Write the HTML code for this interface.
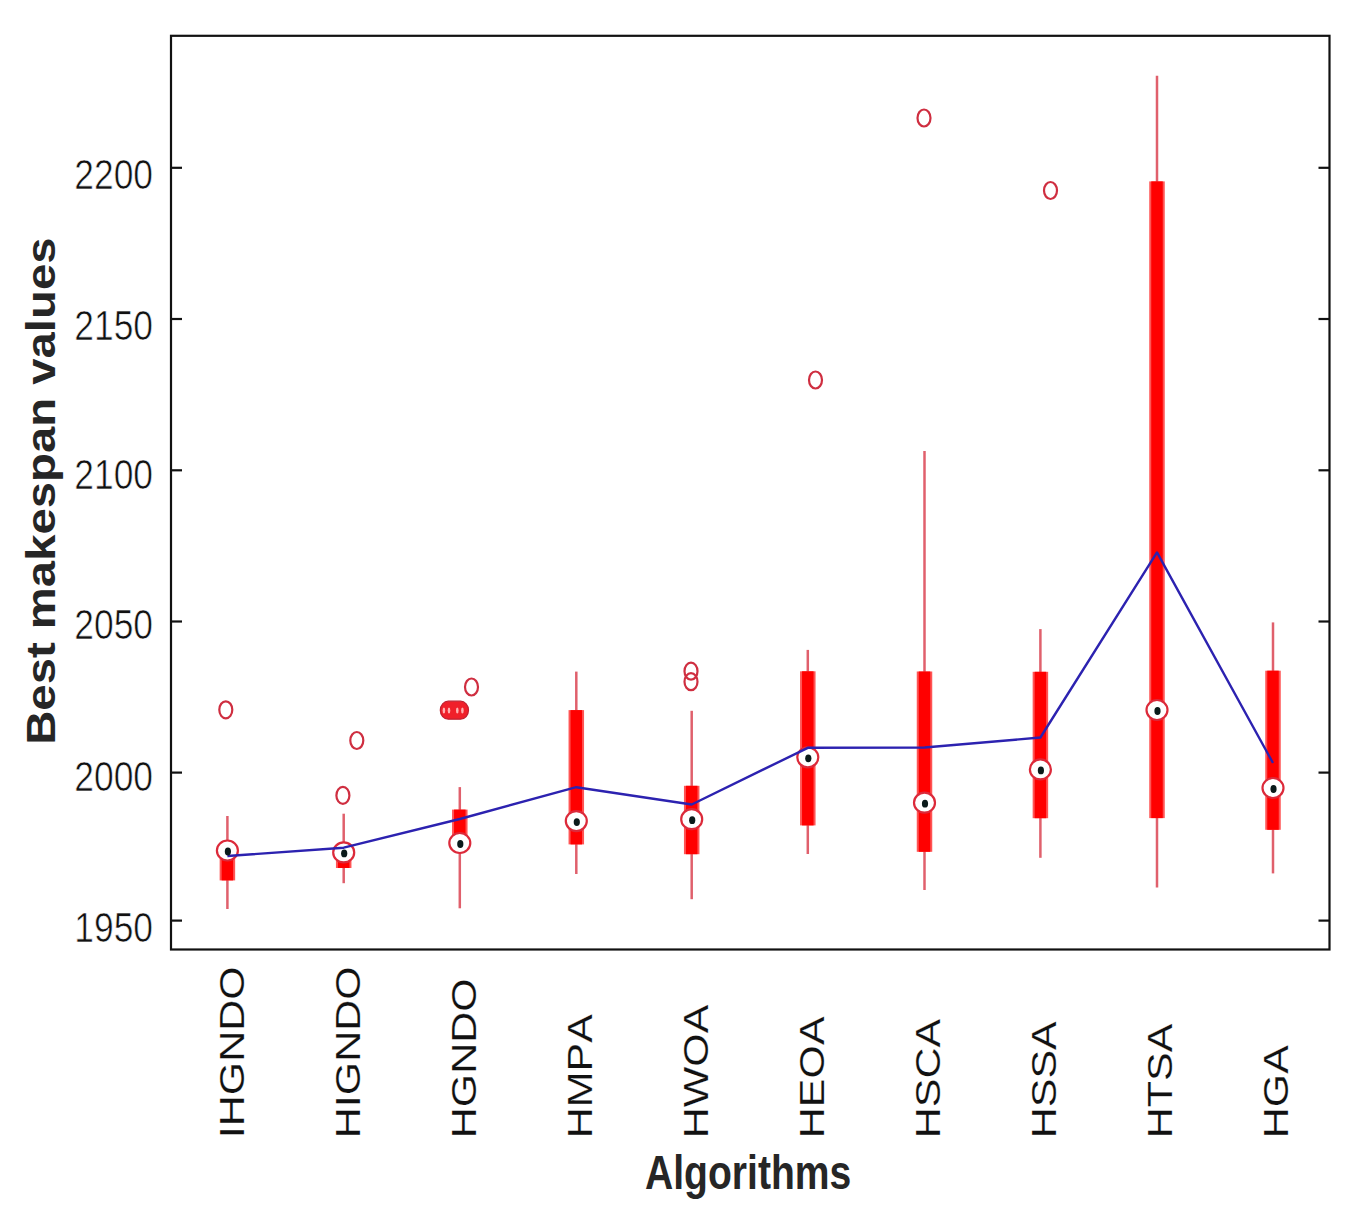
<!DOCTYPE html><html><head><meta charset="utf-8"><style>html,body{margin:0;padding:0;background:#fff;}svg{display:block;}text{font-family:"Liberation Sans",sans-serif;font-kerning:none;}</style></head><body>
<svg width="1353" height="1230" viewBox="0 0 1353 1230">
<rect x="0" y="0" width="1353" height="1230" fill="#fff"/>
<line x1="227.4" y1="816.0" x2="227.4" y2="909.0" stroke="#e0606c" stroke-width="2.5"/>
<line x1="343.7" y1="813.7" x2="343.7" y2="883.2" stroke="#e0606c" stroke-width="2.5"/>
<line x1="459.8" y1="787.1" x2="459.8" y2="908.3" stroke="#e0606c" stroke-width="2.5"/>
<line x1="576.3" y1="671.6" x2="576.3" y2="874.0" stroke="#e0606c" stroke-width="2.5"/>
<line x1="691.7" y1="710.8" x2="691.7" y2="899.2" stroke="#e0606c" stroke-width="2.5"/>
<line x1="807.8" y1="649.9" x2="807.8" y2="854.0" stroke="#e0606c" stroke-width="2.5"/>
<line x1="924.5" y1="451.0" x2="924.5" y2="890.0" stroke="#e0606c" stroke-width="2.5"/>
<line x1="1040.4" y1="629.1" x2="1040.4" y2="857.8" stroke="#e0606c" stroke-width="2.5"/>
<line x1="1157.0" y1="75.8" x2="1157.0" y2="887.6" stroke="#e0606c" stroke-width="2.5"/>
<line x1="1273.0" y1="622.4" x2="1273.0" y2="873.4" stroke="#e0606c" stroke-width="2.5"/>
<rect x="219.65" y="852.0" width="15.5" height="28.40" fill="#ff5555"/>
<rect x="221.65" y="852.0" width="11.5" height="28.40" fill="#ff0000"/>
<rect x="335.95" y="853.0" width="15.5" height="15.00" fill="#ff5555"/>
<rect x="337.95" y="853.0" width="11.5" height="15.00" fill="#ff0000"/>
<rect x="452.05" y="809.6" width="15.5" height="33.40" fill="#ff5555"/>
<rect x="454.05" y="809.6" width="11.5" height="33.40" fill="#ff0000"/>
<rect x="568.55" y="710.1" width="15.5" height="134.30" fill="#ff5555"/>
<rect x="570.55" y="710.1" width="11.5" height="134.30" fill="#ff0000"/>
<rect x="683.95" y="785.8" width="15.5" height="68.40" fill="#ff5555"/>
<rect x="685.95" y="785.8" width="11.5" height="68.40" fill="#ff0000"/>
<rect x="800.05" y="671.3" width="15.5" height="154.10" fill="#ff5555"/>
<rect x="802.05" y="671.3" width="11.5" height="154.10" fill="#ff0000"/>
<rect x="916.75" y="671.5" width="15.5" height="180.30" fill="#ff5555"/>
<rect x="918.75" y="671.5" width="11.5" height="180.30" fill="#ff0000"/>
<rect x="1032.65" y="671.8" width="15.5" height="146.40" fill="#ff5555"/>
<rect x="1034.65" y="671.8" width="11.5" height="146.40" fill="#ff0000"/>
<rect x="1149.25" y="181.4" width="15.5" height="636.70" fill="#ff5555"/>
<rect x="1151.25" y="181.4" width="11.5" height="636.70" fill="#ff0000"/>
<rect x="1265.25" y="670.7" width="15.5" height="159.10" fill="#ff5555"/>
<rect x="1267.25" y="670.7" width="11.5" height="159.10" fill="#ff0000"/>
<ellipse cx="227.4" cy="850.5" rx="10.5" ry="10" fill="#fff" stroke="#dc2a3a" stroke-width="2.2"/>
<ellipse cx="343.7" cy="852.4" rx="10.5" ry="10" fill="#fff" stroke="#dc2a3a" stroke-width="2.2"/>
<ellipse cx="459.8" cy="843.0" rx="10.5" ry="10" fill="#fff" stroke="#dc2a3a" stroke-width="2.2"/>
<ellipse cx="576.3" cy="821.1" rx="10.5" ry="10" fill="#fff" stroke="#dc2a3a" stroke-width="2.2"/>
<ellipse cx="691.7" cy="819.2" rx="10.5" ry="10" fill="#fff" stroke="#dc2a3a" stroke-width="2.2"/>
<ellipse cx="807.8" cy="757.3" rx="10.5" ry="10" fill="#fff" stroke="#dc2a3a" stroke-width="2.2"/>
<ellipse cx="924.5" cy="802.7" rx="10.5" ry="10" fill="#fff" stroke="#dc2a3a" stroke-width="2.2"/>
<ellipse cx="1040.4" cy="769.4" rx="10.5" ry="10" fill="#fff" stroke="#dc2a3a" stroke-width="2.2"/>
<ellipse cx="1157.0" cy="710.0" rx="10.5" ry="10" fill="#fff" stroke="#dc2a3a" stroke-width="2.2"/>
<ellipse cx="1273.0" cy="788.0" rx="10.5" ry="10" fill="#fff" stroke="#dc2a3a" stroke-width="2.2"/>
<polyline points="227.4,856 343.7,847.7 459.8,819 576.3,787.2 691.7,804.5 807.8,747.8 924.5,747.5 1040.4,737.5 1157,552.4 1273,763" fill="none" stroke="#2c22b0" stroke-width="2.4" stroke-linejoin="round"/>
<ellipse cx="227.9" cy="851.5" rx="3.1" ry="3.9" fill="#0a1a1a"/>
<ellipse cx="344.2" cy="853.4" rx="3.1" ry="3.9" fill="#0a1a1a"/>
<ellipse cx="460.3" cy="844.0" rx="3.1" ry="3.9" fill="#0a1a1a"/>
<ellipse cx="576.8" cy="822.1" rx="3.1" ry="3.9" fill="#0a1a1a"/>
<ellipse cx="692.2" cy="820.2" rx="3.1" ry="3.9" fill="#0a1a1a"/>
<ellipse cx="808.3" cy="758.3" rx="3.1" ry="3.9" fill="#0a1a1a"/>
<ellipse cx="925.0" cy="803.7" rx="3.1" ry="3.9" fill="#0a1a1a"/>
<ellipse cx="1040.9" cy="770.4" rx="3.1" ry="3.9" fill="#0a1a1a"/>
<ellipse cx="1157.5" cy="711.0" rx="3.1" ry="3.9" fill="#0a1a1a"/>
<ellipse cx="1273.5" cy="789.0" rx="3.1" ry="3.9" fill="#0a1a1a"/>
<ellipse cx="225.8" cy="709.8" rx="6.5" ry="8.5" fill="none" stroke="#cf2e40" stroke-width="2.2"/>
<ellipse cx="356.8" cy="740.5" rx="6.5" ry="8.5" fill="none" stroke="#cf2e40" stroke-width="2.2"/>
<ellipse cx="342.9" cy="795.4" rx="6.5" ry="8.5" fill="none" stroke="#cf2e40" stroke-width="2.2"/>
<ellipse cx="471.5" cy="687" rx="6.5" ry="8.5" fill="none" stroke="#cf2e40" stroke-width="2.2"/>
<ellipse cx="691" cy="671.2" rx="6.5" ry="8.5" fill="none" stroke="#cf2e40" stroke-width="2.2"/>
<ellipse cx="691" cy="681.7" rx="6.5" ry="8.5" fill="none" stroke="#cf2e40" stroke-width="2.2"/>
<ellipse cx="815.5" cy="380" rx="6.5" ry="8.5" fill="none" stroke="#cf2e40" stroke-width="2.2"/>
<ellipse cx="924" cy="118" rx="6.5" ry="8.5" fill="none" stroke="#cf2e40" stroke-width="2.2"/>
<ellipse cx="1050.5" cy="190.5" rx="6.5" ry="8.5" fill="none" stroke="#cf2e40" stroke-width="2.2"/>
<rect x="440.3" y="701.2" width="28.2" height="18" rx="8" ry="9" fill="#f0202a"/>
<ellipse cx="443.9" cy="710.5" rx="1.3" ry="3" fill="#ffb0b0"/>
<ellipse cx="449" cy="710.5" rx="1.3" ry="3" fill="#ffb0b0"/>
<ellipse cx="457.3" cy="710.5" rx="1.3" ry="3" fill="#ffb0b0"/>
<ellipse cx="462.4" cy="710.5" rx="1.3" ry="3" fill="#ffb0b0"/>
<rect x="440.3" y="701.2" width="28.2" height="18" rx="8" ry="9" fill="none" stroke="#c02030" stroke-width="1.2"/>
<rect x="171.0" y="35.8" width="1158.5" height="913.7" fill="none" stroke="#111" stroke-width="2.2"/>
<line x1="171.0" y1="167.8" x2="182.0" y2="167.8" stroke="#111" stroke-width="2.2"/>
<line x1="1318.5" y1="167.8" x2="1329.5" y2="167.8" stroke="#111" stroke-width="2.2"/>
<line x1="171.0" y1="319.0" x2="182.0" y2="319.0" stroke="#111" stroke-width="2.2"/>
<line x1="1318.5" y1="319.0" x2="1329.5" y2="319.0" stroke="#111" stroke-width="2.2"/>
<line x1="171.0" y1="470.3" x2="182.0" y2="470.3" stroke="#111" stroke-width="2.2"/>
<line x1="1318.5" y1="470.3" x2="1329.5" y2="470.3" stroke="#111" stroke-width="2.2"/>
<line x1="171.0" y1="621.5" x2="182.0" y2="621.5" stroke="#111" stroke-width="2.2"/>
<line x1="1318.5" y1="621.5" x2="1329.5" y2="621.5" stroke="#111" stroke-width="2.2"/>
<line x1="171.0" y1="772.6" x2="182.0" y2="772.6" stroke="#111" stroke-width="2.2"/>
<line x1="1318.5" y1="772.6" x2="1329.5" y2="772.6" stroke="#111" stroke-width="2.2"/>
<line x1="171.0" y1="920.6" x2="182.0" y2="920.6" stroke="#111" stroke-width="2.2"/>
<line x1="1318.5" y1="920.6" x2="1329.5" y2="920.6" stroke="#111" stroke-width="2.2"/>
<text transform="translate(153,189.2) scale(1.0,1.19)" font-size="35.4" text-anchor="end" fill="#111" stroke="#fff" stroke-width="0.55">2200</text>
<text transform="translate(153,340.2) scale(1.0,1.19)" font-size="35.4" text-anchor="end" fill="#111" stroke="#fff" stroke-width="0.55">2150</text>
<text transform="translate(153,488.5) scale(1.0,1.19)" font-size="35.4" text-anchor="end" fill="#111" stroke="#fff" stroke-width="0.55">2100</text>
<text transform="translate(153,639.2) scale(1.0,1.19)" font-size="35.4" text-anchor="end" fill="#111" stroke="#fff" stroke-width="0.55">2050</text>
<text transform="translate(153,790.5) scale(1.0,1.19)" font-size="35.4" text-anchor="end" fill="#111" stroke="#fff" stroke-width="0.55">2000</text>
<text transform="translate(153,942.2) scale(1.0,1.19)" font-size="35.4" text-anchor="end" fill="#111" stroke="#fff" stroke-width="0.55">1950</text>
<text transform="translate(243.85,1138.2) rotate(-90) scale(1.197,1.0)" font-size="35.9" fill="#111" stroke="#fff" stroke-width="0.15">IHGNDO</text>
<text transform="translate(359.83,1138.2) rotate(-90) scale(1.197,1.0)" font-size="35.9" fill="#111" stroke="#fff" stroke-width="0.15">HIGNDO</text>
<text transform="translate(475.81,1138.2) rotate(-90) scale(1.197,1.0)" font-size="35.9" fill="#111" stroke="#fff" stroke-width="0.15">HGNDO</text>
<text transform="translate(591.79,1138.2) rotate(-90) scale(1.197,1.0)" font-size="35.9" fill="#111" stroke="#fff" stroke-width="0.15">HMPA</text>
<text transform="translate(707.77,1138.2) rotate(-90) scale(1.197,1.0)" font-size="35.9" fill="#111" stroke="#fff" stroke-width="0.15">HWOA</text>
<text transform="translate(823.75,1138.2) rotate(-90) scale(1.197,1.0)" font-size="35.9" fill="#111" stroke="#fff" stroke-width="0.15">HEOA</text>
<text transform="translate(939.73,1138.2) rotate(-90) scale(1.197,1.0)" font-size="35.9" fill="#111" stroke="#fff" stroke-width="0.15">HSCA</text>
<text transform="translate(1055.71,1138.2) rotate(-90) scale(1.197,1.0)" font-size="35.9" fill="#111" stroke="#fff" stroke-width="0.15">HSSA</text>
<text transform="translate(1171.69,1138.2) rotate(-90) scale(1.197,1.0)" font-size="35.9" fill="#111" stroke="#fff" stroke-width="0.15">HTSA</text>
<text transform="translate(1287.6699999999998,1138.2) rotate(-90) scale(1.197,1.0)" font-size="35.9" fill="#111" stroke="#fff" stroke-width="0.15">HGA</text>
<text transform="translate(645.0,1189) scale(1.0,1.207)" font-size="39.1" font-weight="bold" fill="#262626">Algorithms</text>
<text transform="translate(55.2,744.8) rotate(-90) scale(1.168,1.0)" font-size="40.5" font-weight="bold" fill="#262626">Best makespan values</text>
</svg></body></html>
